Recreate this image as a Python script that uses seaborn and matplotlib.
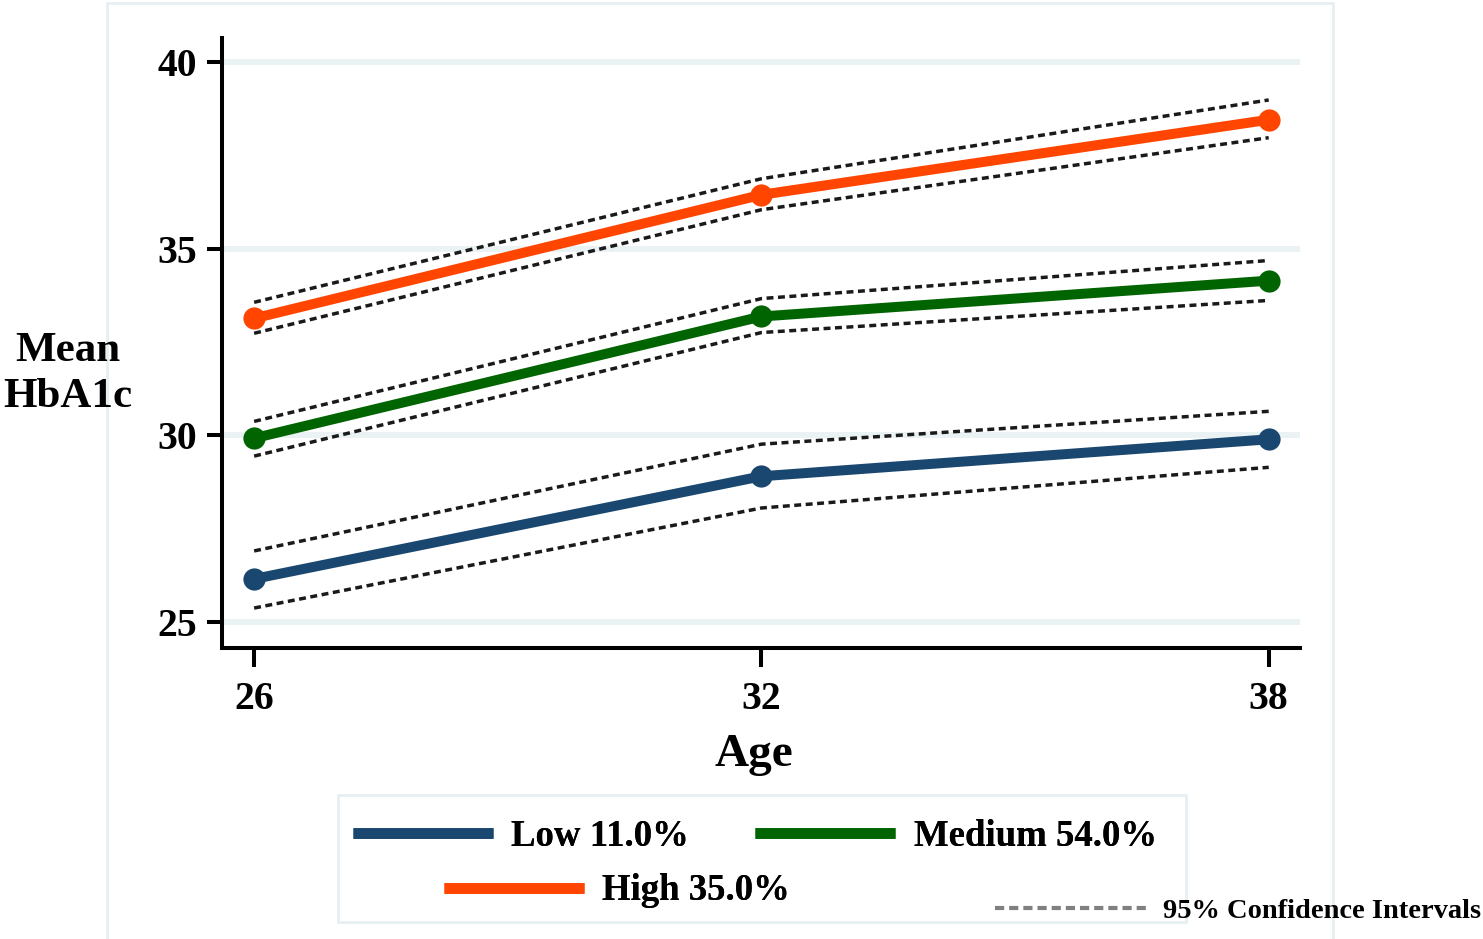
import pandas as pd
import matplotlib
matplotlib.use("Agg")
import matplotlib.pyplot as plt
import seaborn as sns
from matplotlib.lines import Line2D
from matplotlib.patches import Rectangle

# datos
edades = [26, 32, 38]
grupos = ["Low 11.0%", "Medium 54.0%", "High 35.0%"]
media_low = [26.15, 28.90, 29.89]
media_medium = [29.92, 33.18, 34.14]
media_high = [33.13, 36.44, 38.45]
ic_sup_low = [26.90, 29.76, 30.64]
ic_inf_low = [25.37, 28.05, 29.14]
ic_sup_medium = [30.37, 33.66, 34.68]
ic_inf_medium = [29.44, 32.75, 33.61]
ic_sup_high = [33.56, 36.87, 38.98]
ic_inf_high = [32.73, 36.04, 37.97]
colores = ["#1a476f", "#006400", "#ff4500"]
yticks = [25, 30, 35, 40]

sns.set_theme(style="white")
plt.rcParams["font.family"] = ["Liberation Serif", "DejaVu Serif"]
plt.rcParams["font.weight"] = "bold"
for clave in ["text.color", "axes.labelcolor", "xtick.color", "ytick.color"]:
    plt.rcParams[clave] = "black"

df = pd.DataFrame({
    "edad": edades * 3,
    "grupo": [g for g in grupos for _ in edades],
    "media": media_low + media_medium + media_high,
    "sup": ic_sup_low + ic_sup_medium + ic_sup_high,
    "inf": ic_inf_low + ic_inf_medium + ic_inf_high,
})

fig = plt.figure(figsize=(14.83, 9.39), dpi=100)
ax = fig.add_axes([222 / 1483, 1 - 648 / 939, (1300 - 222) / 1483, (648 - 38) / 939])

# marco exterior claro (debajo del texto)
fig.add_artist(Rectangle((107 / 1483, -0.02), (1333 - 107) / 1483, 1.02 - 3 / 939,
                         transform=fig.transFigure, fill=False,
                         edgecolor="#e6eff1", lw=2, zorder=-5))

# intervalos de confianza
for col in ["sup", "inf"]:
    sns.lineplot(data=df, x="edad", y=col, units="grupo", estimator=None,
                 color="#1a1a1a", lw=2.5, linestyle=(0, (2.0, 1.3)), ax=ax,
                 legend=False, zorder=2)

sns.lineplot(data=df, x="edad", y="media", hue="grupo", palette=colores,
             lw=7.2, marker="o", markersize=16, markeredgewidth=0,
             ax=ax, legend=False, zorder=3)

ax.set_xlim(25.62, 38.37)
ax.set_ylim(24.3, 40.64)
ax.set_xticks(edades)
ax.set_yticks(yticks)
ax.yaxis.grid(True, color="#eaf2f3", lw=4.3)
ax.xaxis.grid(False)
ax.set_axisbelow(True)
sns.despine(ax=ax)
for s in ["left", "bottom"]:
    ax.spines[s].set_linewidth(2.9)
    ax.spines[s].set_color("black")
ax.tick_params(axis="y", length=11, width=2.9, pad=7, labelsize=28.5, left=True)
ax.tick_params(axis="x", length=14, width=2.9, pad=10, labelsize=28.5, bottom=True)
for lab in ax.get_xticklabels() + ax.get_yticklabels():
    lab.set_fontweight("bold")

ax.set_xlabel("Age", fontsize=34, fontweight="bold")
ax.xaxis.set_label_coords((754 - 222) / 1078, (648 - 755) / 610)
ax.xaxis.label.set_va("center")
ax.set_ylabel("Mean\nHbA1c", fontsize=31, fontweight="bold", rotation=0,
              linespacing=1.3, ha="center", va="center")
ax.yaxis.set_label_coords((68 - 222) / 1078, (648 - 374) / 610)

# leyenda
manejadores = [Line2D([], [], color=c, lw=7.7, solid_capstyle="butt") for c in colores]
fig.add_artist(Rectangle((338 / 1483, 1 - 922 / 939), (1186 - 338) / 1483, 127 / 939,
                         transform=fig.transFigure, fill=False,
                         edgecolor="#e6eff1", lw=2, zorder=-5))
ley1 = fig.legend(manejadores[:2], grupos[:2], ncol=2, frameon=False,
                  loc="center left", bbox_to_anchor=(353 / 1483, 1 - 836 / 939),
                  prop={"size": 26.5, "weight": "bold"}, handlelength=3.8,
                  handletextpad=0.5, columnspacing=1.8, borderpad=0,
                  borderaxespad=0)
fig.add_artist(ley1)
ley2 = fig.legend(manejadores[2:], grupos[2:], frameon=False,
                  loc="center left", bbox_to_anchor=(444 / 1483, 1 - 891 / 939),
                  prop={"size": 26.5, "weight": "bold"}, handlelength=3.8,
                  handletextpad=0.5, borderpad=0, borderaxespad=0)
fig.add_artist(ley2)
ic_handle = Line2D([], [], color="#808080", lw=3, linestyle=(0, (2.2, 1.2)))
fig.legend([ic_handle], ["95% Confidence Intervals"], frameon=False,
           loc="center left", bbox_to_anchor=(995 / 1483, 1 - 911 / 939),
           prop={"size": 20.5, "weight": "bold"}, handlelength=5.4,
           handletextpad=0.5, borderpad=0, borderaxespad=0)

fig.savefig("out.png", dpi=100)
